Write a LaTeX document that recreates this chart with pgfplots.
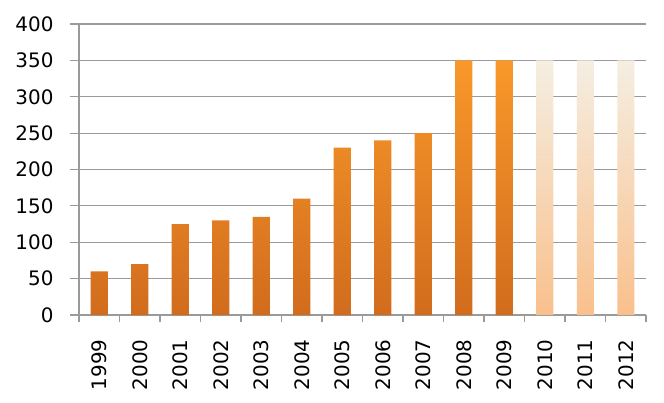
\documentclass[border=0pt]{standalone}
\usepackage{fontspec}
\setmainfont{DejaVu Sans}
\usepackage{pgfplots}
\pgfplotsset{compat=1.18}
\definecolor{otop}{HTML}{F9982A}
\definecolor{obot}{HTML}{D16C1D}
\definecolor{ptop}{HTML}{F5EEE2}
\definecolor{pbot}{HTML}{F9C08C}
\definecolor{gridc}{HTML}{9A9A9A}
\begin{document}
\begin{tikzpicture}
\begin{axis}[
  scale only axis, width=567bp, height=291bp,
  xmin=-0.5, xmax=13.5, ymin=0, ymax=400,
  ytick={0,50,...,400},
  xtick={0,...,13},
  xticklabels={1999,2000,2001,2002,2003,2004,2005,2006,2007,2008,2009,2010,2011,2012},
  minor xtick={-0.5,0.5,...,13.5},
  axis x line*=bottom, axis y line*=left,
  axis line style={-, draw=gridc, line width=1.2pt},
  ymajorgrids, major grid style={draw=gridc, line width=1.2pt},
  tick align=outside,
  major x tick style={draw=none},
  minor x tick style={draw=gridc, line width=1.2pt},
  major y tick style={draw=gridc, line width=1.2pt},
  major tick length=9bp, minor tick length=7bp,
  font=\fontsize{20}{24}\selectfont,
  /pgf/number format/assume math mode=true,
  xticklabel style={rotate=90, anchor=east},
  yticklabel style={anchor=east},
  xticklabel shift=12bp, yticklabel shift=13bp,
  bar width=0.42,
]
\coordinate (O) at (rel axis cs:0,0);
\addplot[ybar, bar shift=0pt, draw=none, top color=otop, bottom color=obot]
  coordinates {(0,60) (1,70) (2,125) (3,130) (4,135) (5,160) (6,230) (7,240) (8,250) (9,350) (10,350)};
\addplot[ybar, bar shift=0pt, draw=none, top color=ptop, bottom color=pbot]
  coordinates {(11,350) (12,350) (13,350)};
\end{axis}
\path (O) ++(-79bp,-88bp) rectangle ++(664bp,403bp);
\end{tikzpicture}
\end{document}
